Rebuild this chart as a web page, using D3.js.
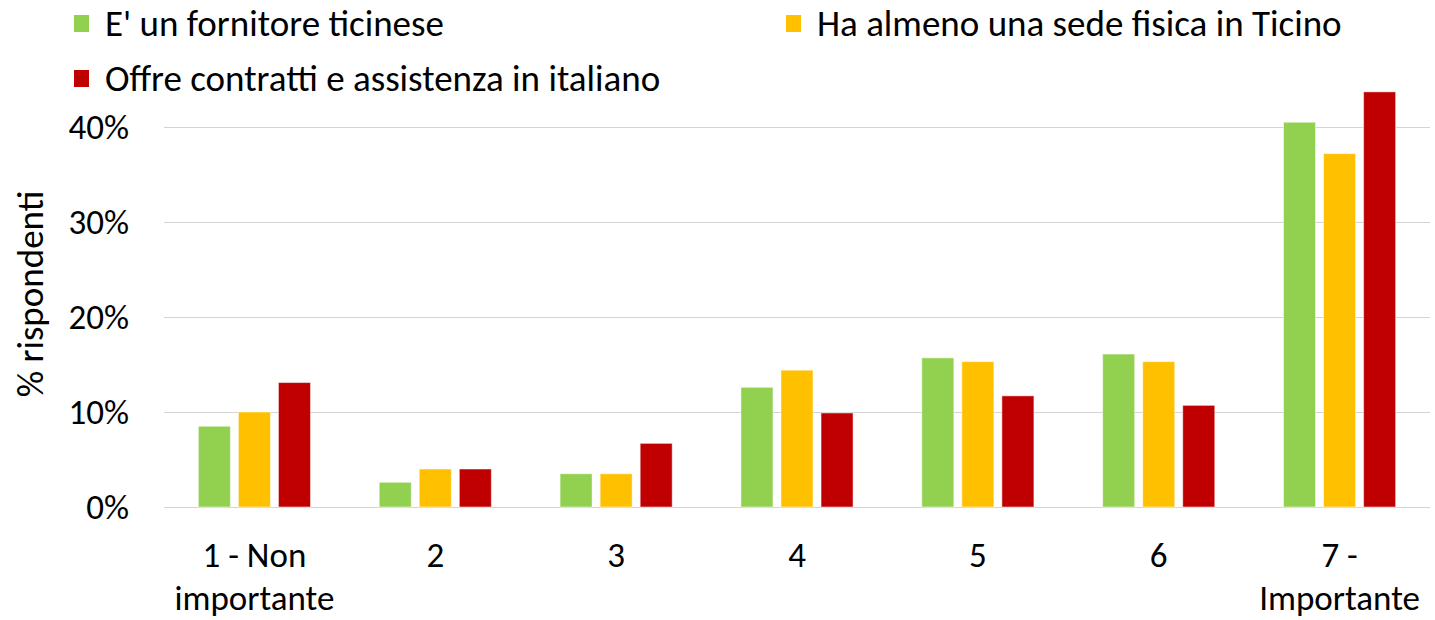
<!DOCTYPE html>
<html lang="it">
<head>
    <meta charset="UTF-8">
    <title>% rispondenti</title>
    <script src="https://d3js.org/d3.v7.min.js"></script>
    <style>
        body {
            margin: 0;
            background: #ffffff;
            font-family: Calibri, Carlito, "Open Sans", "Liberation Sans", sans-serif;
        }
        .grid line {
            stroke: #d4d4d4;
            stroke-width: 1.2px;
        }
        .legend text, .axis-title {
            fill: #000;
            font-size: 37px;
        }
        .tick-label {
            fill: #000;
            font-size: 35px;
        }
        .y-label {
            fill: #000;
            font-size: 35px;
        }
    </style>
</head>
<body>
    <div id="chart"></div>
    <script>
        const categories = ["1 - Non|importante", "2", "3", "4", "5", "6", "7 -|Importante"];
        const seriesNames = [
            "E' un fornitore ticinese",
            "Ha almeno una sede fisica in Ticino",
            "Offre contratti e assistenza in italiano"
        ];
        const seriesColors = ["#92D050", "#FFC000", "#C00000"];
        const fornitoreTicinese = [8.5, 2.6, 3.5, 12.6, 15.7, 16.1, 40.5];
        const sedeTicino = [10.0, 4.0, 3.5, 14.4, 15.3, 15.3, 37.2];
        const assistenzaItaliano = [13.1, 4.0, 6.7, 9.9, 11.7, 10.7, 43.7];
        const yTicks = [0, 10, 20, 30, 40];

        const allSeries = [fornitoreTicinese, sedeTicino, assistenzaItaliano];

        const width = 1435, height = 620;
        const svg = d3.select("#chart").append("svg")
            .attr("width", width)
            .attr("height", height);

        const x0 = d3.scaleBand()
            .domain(categories)
            .range([164, 1430])
            .paddingInner(0.38)
            .paddingOuter(0.19);

        const x1 = d3.scaleBand()
            .domain(d3.range(seriesNames.length))
            .range([0, x0.bandwidth()])
            .paddingInner(0.2);

        const y = d3.scaleLinear()
            .domain([0, 40])
            .range([507, 127]);

        // gridlines
        svg.append("g").attr("class", "grid")
            .selectAll("line")
            .data(yTicks)
            .enter().append("line")
            .attr("x1", 164)
            .attr("x2", 1430)
            .attr("y1", d => Math.round(y(d)) + 0.5)
            .attr("y2", d => Math.round(y(d)) + 0.5);

        // y tick labels
        svg.append("g")
            .selectAll("text")
            .data(yTicks)
            .enter().append("text")
            .attr("class", "y-label")
            .attr("x", 129)
            .attr("y", d => y(d))
            .attr("dy", "0.35em")
            .attr("text-anchor", "end")
            .text(d => d + "%");

        // axis title
        svg.append("text")
            .attr("class", "axis-title")
            .attr("transform", "translate(30,294) rotate(-90)")
            .attr("text-anchor", "middle")
            .attr("dy", "0.35em")
            .text("% rispondenti");

        // bars
        const groups = svg.append("g")
            .selectAll("g")
            .data(categories)
            .enter().append("g")
            .attr("transform", d => `translate(${x0(d)},0)`);

        groups.selectAll("rect")
            .data((d, i) => allSeries.map((s, k) => ({ k: k, v: s[i] })))
            .enter().append("rect")
            .attr("x", d => x1(d.k))
            .attr("width", x1.bandwidth())
            .attr("y", d => y(d.v))
            .attr("height", d => y(0) - y(d.v))
            .attr("fill", d => seriesColors[d.k])
            .attr("stroke", "#ffffff")
            .attr("stroke-opacity", 0.5)
            .attr("stroke-width", 1);

        // x labels (two lines where needed)
        const xl = svg.append("g")
            .selectAll("text")
            .data(categories)
            .enter().append("text")
            .attr("class", "tick-label")
            .attr("text-anchor", "middle")
            .attr("x", d => x0(d) + x0.bandwidth() / 2)
            .attr("y", 555);

        xl.selectAll("tspan")
            .data(d => d.split("|"))
            .enter().append("tspan")
            .attr("x", function () { return d3.select(this.parentNode).attr("x"); })
            .attr("dy", (d, i) => i === 0 ? "0.35em" : 43)
            .text(d => d);

        // legend
        const legendPos = [[74, 23], [786, 23], [74, 78]];
        const legend = svg.append("g").attr("class", "legend")
            .selectAll("g")
            .data(seriesNames)
            .enter().append("g")
            .attr("transform", (d, i) => `translate(${legendPos[i][0]},${legendPos[i][1]})`);

        legend.append("rect")
            .attr("x", 0)
            .attr("y", -8)
            .attr("width", 15)
            .attr("height", 17)
            .attr("fill", (d, i) => seriesColors[i]);

        legend.append("text")
            .attr("x", 31)
            .attr("dy", "0.35em")
            .text(d => d);
    </script>
</body>
</html>
